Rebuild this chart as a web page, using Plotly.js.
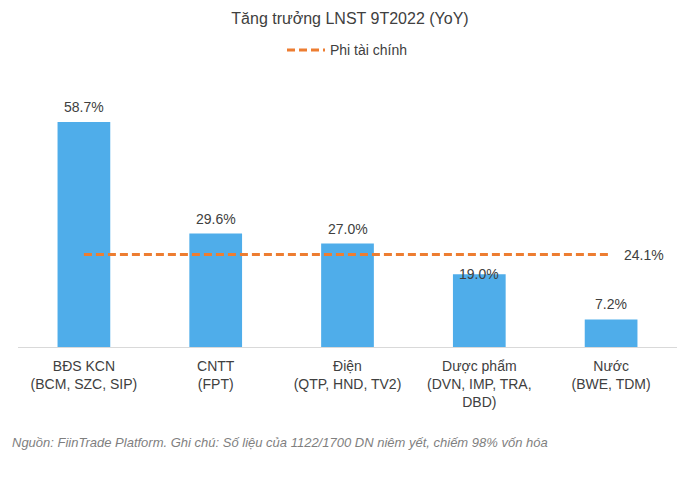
<!DOCTYPE html>
<html>
<head>
<meta charset="utf-8">
<script src="https://cdn.plot.ly/plotly-3.0.1.min.js"></script>
<style>
  body { margin: 0; background: #fff; }
  #chart { width: 700px; height: 486px; }
</style>
</head>
<body>
<div id="chart"></div>
<script>
var categories = [
  'BĐS KCN<br>(BCM, SZC, SIP)',
  'CNTT<br>(FPT)',
  'Điện<br>(QTP, HND, TV2)',
  'Dược phẩm<br>(DVN, IMP, TRA,<br>DBD)',
  'Nước<br>(BWE, TDM)'
];
var growth = [58.7, 29.6, 27.0, 19.0, 7.2];
var nonFinancial = [24.1, 24.1, 24.1, 24.1, 24.1];

var textColor = '#404040';
var font = 'Liberation Sans, Arial, sans-serif';

var bars = {
  type: 'bar',
  x: categories,
  y: growth,
  width: 0.4,
  marker: { color: '#4FADEA' },
  hoverinfo: 'x+y',
  showlegend: false
};

var line = {
  type: 'scatter',
  mode: 'lines',
  x: categories,
  y: nonFinancial,
  name: 'Phi tài chính',
  line: { color: '#ED7D31', width: 3, dash: '8px,4px' },
  cliponaxis: false
};

// value labels above bars (the 19.0% one sits on the bar top in the original)
var labels = growth.map((v, i) => ({
  x: categories[i], y: v,
  text: v.toFixed(1) + '%',
  xref: 'x', yref: 'y',
  yanchor: 'bottom',
  yshift: i == 3 ? -10 : 5,
  showarrow: false,
  font: { size: 14, color: textColor, family: font }
}));

var last = nonFinancial.length - 1;
labels.push({
  x: categories[last], y: nonFinancial[last],
  text: nonFinancial[last].toFixed(1) + '%',
  xref: 'x', yref: 'y',
  xanchor: 'left', xshift: 11,
  showarrow: false,
  font: { size: 14, color: textColor, family: font }
});

labels.push({
  text: 'Nguồn: FiinTrade Platform. Ghi chú: Số liệu của 1122/1700 DN niêm yết, chiếm 98% vốn hóa',
  xref: 'paper', yref: 'paper',
  x: -8 / 660, xanchor: 'left',
  y: -95 / 230, yanchor: 'middle',
  showarrow: false,
  font: { size: 13, color: '#7f7f7f', family: font, style: 'italic' }
});

var layout = {
  width: 700,
  height: 486,
  margin: { l: 18, r: 23, t: 117, b: 139 },
  paper_bgcolor: '#fff',
  plot_bgcolor: '#fff',
  font: { family: font, color: textColor, size: 14 },
  title: {
    text: 'Tăng trưởng LNST 9T2022 (YoY)',
    font: { size: 16, color: textColor, family: font },
    x: 0.5, xanchor: 'center',
    y: 1 - 18 / 486, yanchor: 'middle'
  },
  legend: {
    orientation: 'h',
    x: 0.5, xanchor: 'center',
    y: 1.29, yanchor: 'middle',
    itemwidth: 38,
    font: { size: 14, color: textColor, family: font }
  },
  xaxis: {
    showline: true,
    linecolor: '#d9d9d9',
    linewidth: 1,
    ticks: '',
    ticklabelstandoff: 6,
    tickfont: { size: 14, color: textColor, family: font },
    fixedrange: true
  },
  yaxis: {
    range: [0, 60],
    visible: false,
    showgrid: false,
    zeroline: false,
    fixedrange: true
  },
  annotations: labels
};

window.addEventListener('load', (event) => {
  Plotly.newPlot('chart', [bars, line], layout, { displayModeBar: false });
});
</script>
</body>
</html>
